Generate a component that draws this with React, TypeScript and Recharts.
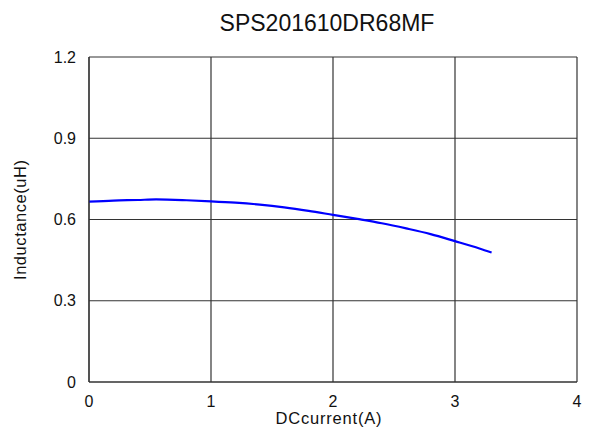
import React from 'react';
import { LineChart, Line, XAxis, YAxis, CartesianGrid } from 'recharts';

const TITLE = 'SPS201610DR68MF';
const X_LABEL = 'DCcurrent(A)';
const Y_LABEL = 'Inductance(uH)';

const current = [0, 0.2, 0.4, 0.55, 0.8, 1.0, 1.2, 1.4, 1.6, 1.8, 2.0, 2.2, 2.4, 2.6, 2.8, 3.0, 3.2, 3.3];
const inductance = [0.666, 0.670, 0.672, 0.674, 0.671, 0.667, 0.662, 0.655, 0.645, 0.632, 0.617, 0.602, 0.586, 0.567, 0.546, 0.520, 0.493, 0.478];

const xTicks = [0, 1, 2, 3, 4];
const yTicks = [0, 0.3, 0.6, 0.9, 1.2];

const FONT = '"Liberation Sans", Arial, sans-serif';

const data = current.map((c, i) => ({ x: c, y: inductance[i] }));

export default function App() {
  return (
    <div style={{ position: 'absolute', left: 0, top: 0, width: 590, height: 434, background: '#fff' }}>
      <LineChart
        width={590}
        height={434}
        data={data}
        margin={{ top: 57, right: 13, bottom: 22, left: 29 }}
        style={{ fontFamily: FONT }}
      >
        <CartesianGrid stroke="#333" strokeWidth={1.2} />
        <XAxis
          dataKey="x"
          type="number"
          domain={[0, 4]}
          ticks={xTicks}
          height={30}
          axisLine={{ stroke: '#333', strokeWidth: 1.2 }}
          tickLine={false}
          tickSize={0}
          tickMargin={14}
          tick={{ fill: '#111', fontSize: 16, fontFamily: FONT }}
        />
        <YAxis
          type="number"
          domain={[0, 1.2]}
          ticks={yTicks}
          width={60}
          axisLine={{ stroke: '#333', strokeWidth: 1.2 }}
          tickLine={false}
          tickSize={0}
          tickMargin={13}
          tickFormatter={(v: number) => (v === 0 ? '0' : v.toFixed(1))}
          tick={{ fill: '#111', fontSize: 16, fontFamily: FONT }}
        />
        <Line
          dataKey="y"
          type="monotone"
          stroke="#0000ff"
          strokeWidth={2.2}
          dot={false}
          isAnimationActive={false}
        />
      </LineChart>
      <svg
        width={590}
        height={434}
        style={{ position: 'absolute', left: 0, top: 0, pointerEvents: 'none' }}
      >
        <text x={327} y={31} textAnchor="middle" fontSize={23} fontFamily={FONT} fill="#111">
          {TITLE}
        </text>
        <text
          x={328.5}
          y={424}
          textAnchor="middle"
          fontSize={16.5}
          fontFamily={FONT}
          fill="#111"
          textLength={106}
          lengthAdjust="spacing"
        >
          {X_LABEL}
        </text>
        <text
          transform="translate(26 220) rotate(-90)"
          textAnchor="middle"
          fontSize={16.5}
          fontFamily={FONT}
          fill="#111"
          textLength={120}
          lengthAdjust="spacing"
        >
          {Y_LABEL}
        </text>
      </svg>
    </div>
  );
}
